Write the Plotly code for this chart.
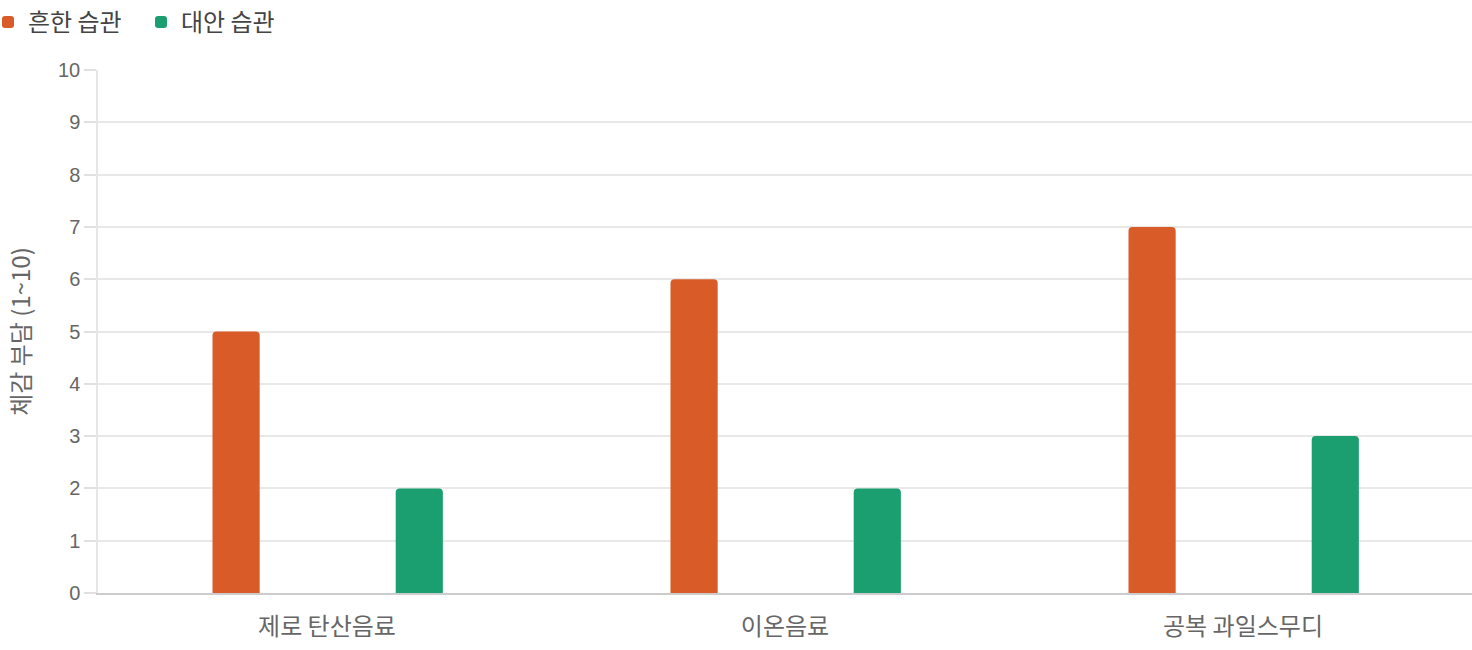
import plotly.graph_objects as go

categories = ["제로 탄산음료", "이온음료", "공복 과일스무디"]
common_habit = [5, 6, 7]
alt_habit = [2, 2, 3]
series_names = ["흔한 습관", "대안 습관"]
y_ticks = list(range(0, 11))

FONT = "Noto Sans CJK KR"
NUMFONT = "Liberation Sans, Noto Sans CJK KR"
ORANGE = "#D95B27"
GREEN = "#1B9E70"

fig = go.Figure()
fig.add_trace(go.Bar(
    x=categories, y=common_habit, name=series_names[0],
    marker=dict(color=ORANGE, cornerradius=4, line=dict(width=0)),
    width=0.103, offset=-0.25,
))
fig.add_trace(go.Bar(
    x=categories, y=alt_habit, name=series_names[1],
    marker=dict(color=GREEN, cornerradius=4, line=dict(width=0)),
    width=0.103, offset=0.15,
))

fig.update_layout(
    width=1472, height=650,
    margin=dict(l=98, r=0, t=70, b=57),
    paper_bgcolor="white", plot_bgcolor="white",
    font=dict(family=FONT, color="#666666", size=22),
    barmode="overlay",
    showlegend=True,
    legend=dict(
        orientation="h",
        xref="container", yref="container",
        x=0, y=1.0, xanchor="left", yanchor="top",
        font=dict(size=24, color="#444444", family=FONT),
        itemwidth=30, tracegroupgap=0, indentation=-12,
        entrywidth=120, entrywidthmode="pixels",
        bgcolor="rgba(0,0,0,0)",
    ),
    xaxis=dict(
        type="category",
        showgrid=False,
        showline=True, linecolor="#cccccc", linewidth=1.5,
        ticks="", tickfont=dict(size=24, color="#666666", family=FONT),
        ticklabelstandoff=11,
        range=[-0.5, 2.5],
        fixedrange=True,
    ),
    yaxis=dict(
        range=[0, 10],
        tickvals=y_ticks,
        showgrid=True, gridcolor="#e8e8e8", gridwidth=1.5,
        showline=True, linecolor="#e6e6e6", linewidth=1.5,
        ticks="outside", ticklen=12, tickcolor="#e0e0e0", tickwidth=1.5,
        tickfont=dict(size=20, color="#666666", family=NUMFONT),
        title=dict(text="체감 부담 (1~10)", font=dict(size=24, color="#666666", family=FONT), standoff=21),
        zeroline=False,
        fixedrange=True,
    ),
)

fig.write_html("out.html", config={"displayModeBar": False},
               post_script="document.body.style.margin='0';")
